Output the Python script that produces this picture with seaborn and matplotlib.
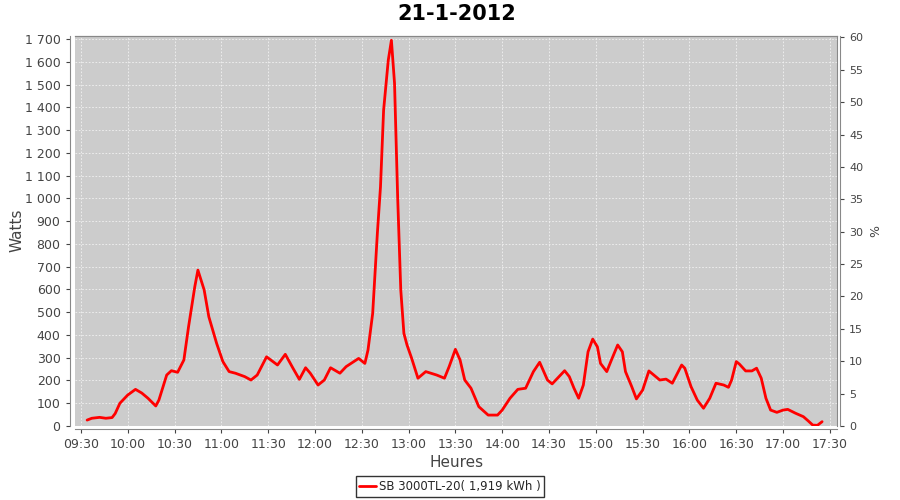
import pandas as pd
import matplotlib
matplotlib.use("Agg")
import matplotlib.pyplot as plt
import matplotlib.dates as mdates
from matplotlib.ticker import FuncFormatter, MultipleLocator
import seaborn as sns

sns.set_style("ticks")
plt.rcParams['font.family'] = ['DejaVu Sans']

jour = "2012-01-21"
titre = "21-1-2012"
serie = "SB 3000TL-20( 1,919 kWh )"

heures = ["09:34", "09:37", "09:42", "09:46", "09:50", "09:52", "09:55", "10:00", "10:05", "10:09",
          "10:13", "10:18", "10:20", "10:25", "10:28", "10:32", "10:36", "10:39", "10:43", "10:45",
          "10:49", "10:52", "10:57", "11:01", "11:05", "11:09", "11:15", "11:19", "11:23", "11:29",
          "11:36", "11:41", "11:46", "11:50", "11:54", "11:57", "12:02", "12:06", "12:10", "12:16",
          "12:20", "12:28", "12:32", "12:34", "12:37", "12:40", "12:42", "12:44", "12:47", "12:49",
          "12:51", "12:53", "12:55", "12:57", "12:59", "13:02", "13:06", "13:11", "13:18", "13:23",
          "13:26", "13:30", "13:33", "13:36", "13:40", "13:45", "13:51", "13:57", "14:00", "14:05",
          "14:10", "14:15", "14:20", "14:24", "14:29", "14:32", "14:40", "14:43", "14:46", "14:49",
          "14:52", "14:55", "14:58", "15:01", "15:03", "15:07", "15:10", "15:14", "15:17", "15:19",
          "15:23", "15:26", "15:30", "15:34", "15:41", "15:45", "15:49", "15:55", "15:57", "16:01",
          "16:05", "16:09", "16:13", "16:17", "16:22", "16:25", "16:27", "16:30", "16:32", "16:36",
          "16:40", "16:43", "16:46", "16:49", "16:52", "16:56", "17:00", "17:03", "17:08", "17:13",
          "17:16", "17:19", "17:22", "17:25"]
watts = [26, 34, 38, 34, 37, 55, 100, 136, 161, 145,
         122, 88, 114, 224, 243, 236, 290, 436, 612, 685,
         598, 480, 363, 283, 239, 232, 217, 202, 224, 304,
         268, 315, 253, 205, 256, 232, 180, 202, 256, 232,
         261, 297, 275, 334, 495, 847, 1051, 1388, 1608, 1695,
         1506, 1007, 598, 407, 356, 297, 210, 239, 224, 210,
         261, 337, 290, 202, 166, 85, 48, 48, 70, 122,
         161, 166, 239, 280, 202, 185, 243, 217, 166, 122,
         180, 326, 382, 348, 275, 239, 290, 356, 326, 239,
         173, 119, 158, 242, 202, 206, 188, 268, 254, 173,
         114, 78, 122, 188, 180, 170, 202, 283, 272, 242,
         242, 254, 210, 122, 70, 60, 70, 73, 56, 41,
         23, 4, 3, 19]

df = pd.DataFrame({"Heures": pd.to_datetime([jour + " " + h for h in heures]), "Watts": watts})

fig = plt.figure(figsize=(9, 5), dpi=100)
ax = fig.add_axes([0.0835, 0.148, 0.847, 0.781])
ax.set_facecolor("#cccccc")

sns.lineplot(data=df, x="Heures", y="Watts", color="red", linewidth=2, ax=ax, label=serie)

ax.set_xlim(pd.Timestamp(jour + " 09:26:20"), pd.Timestamp(jour + " 17:34:50"))
ax.set_ylim(0, 1716)
ax.xaxis.set_major_locator(mdates.MinuteLocator(byminute=[0, 30]))
ax.xaxis.set_major_formatter(mdates.DateFormatter("%H:%M"))
ax.yaxis.set_major_locator(MultipleLocator(100))
ax.yaxis.set_major_formatter(FuncFormatter(lambda v, p: f"{int(v):,}".replace(",", " ")))
ax.grid(True, color="#f2f2f2", linestyle=(0, (2, 2)), linewidth=0.6)
ax.tick_params(labelsize=9, colors="#444444", length=3)
for s in ax.spines.values():
    s.set_color("#888888")
ax.spines["left"].set_position(("outward", 4))
ax.spines["bottom"].set_position(("outward", 2))

ax.set_xlabel("Heures", fontsize=11, color="#444444", labelpad=3)
ax.set_ylabel("Watts", fontsize=11, color="#444444", labelpad=0)
ax.set_title(titre, fontsize=15, fontweight="bold", color="black", pad=11)

ax2 = ax.twinx()
ax2.set_ylim(0, 60.3)
ax2.yaxis.set_major_locator(MultipleLocator(5))
ax2.tick_params(labelsize=8, colors="#444444", length=3)
ax2.set_ylabel("%", fontsize=9, color="#444444")
for s in ax2.spines.values():
    s.set_color("#888888")
ax2.spines["right"].set_position(("outward", 2))
ax2.spines["left"].set_visible(False)
ax2.spines["bottom"].set_visible(False)

ax.legend_.remove()
leg = fig.legend(*ax.get_legend_handles_labels(), loc="center", bbox_to_anchor=(0.5, 0.027),
                 frameon=True, fancybox=False, fontsize=8.5, handlelength=1.4, borderpad=0.3,
                 handletextpad=0.3)
leg.get_frame().set_edgecolor("black")
leg.get_frame().set_linewidth(1)

fig.savefig("out.png")
